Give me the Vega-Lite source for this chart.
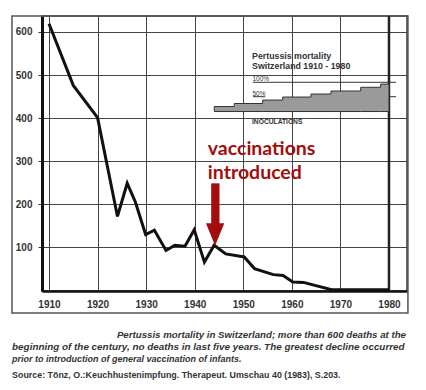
{
  "$schema": "https://vega.github.io/schema/vega-lite/v6.json",
  "width": 365,
  "height": 275,
  "autosize": {"type": "none"},
  "padding": {"left": 42, "top": 16, "right": 19, "bottom": 99},
  "background": "white",
  "config": {
    "view": {"stroke": "#333", "strokeWidth": 1.5},
    "font": "Liberation Sans"
  },
  "datasets": {
    "mortality": [
      {"year": 1910, "deaths": 619},
      {"year": 1915, "deaths": 476},
      {"year": 1920, "deaths": 401},
      {"year": 1924.1, "deaths": 172},
      {"year": 1926.1, "deaths": 249},
      {"year": 1927.8, "deaths": 205},
      {"year": 1929.9, "deaths": 130},
      {"year": 1931.7, "deaths": 140},
      {"year": 1934.1, "deaths": 93},
      {"year": 1935.9, "deaths": 105},
      {"year": 1938, "deaths": 103},
      {"year": 1939.9, "deaths": 141},
      {"year": 1942, "deaths": 66},
      {"year": 1944, "deaths": 105},
      {"year": 1946.4, "deaths": 85},
      {"year": 1950.2, "deaths": 78},
      {"year": 1952.3, "deaths": 51},
      {"year": 1956.2, "deaths": 37},
      {"year": 1958.2, "deaths": 35},
      {"year": 1960.2, "deaths": 20},
      {"year": 1962.4, "deaths": 19},
      {"year": 1968.2, "deaths": 2},
      {"year": 1980, "deaths": 2}
    ],
    "inoculations": [
      {"year": 1944.03, "top": 427, "base": 415.4},
      {"year": 1948.15, "top": 434, "base": 415.4},
      {"year": 1954.0, "top": 442, "base": 415.4},
      {"year": 1958.12, "top": 449, "base": 415.4},
      {"year": 1963.94, "top": 456, "base": 415.4},
      {"year": 1968.06, "top": 463, "base": 415.4},
      {"year": 1974.18, "top": 471.6, "base": 415.4},
      {"year": 1978.29, "top": 479, "base": 415.4},
      {"year": 1980.0, "top": 479, "base": 415.4}
    ],
    "refLines": [
      {"name": "100%", "x1": 1952.0, "x2": 1981.44, "y": 483.2},
      {"name": "50% a", "x1": 1952.0, "x2": 1954.5, "y": 449.8},
      {"name": "50% b", "x1": 1978.77, "x2": 1981.44, "y": 449.8}
    ],
    "frame": [{"x1": 1902.38, "x2": 1983.9, "y1": 637, "y2": -52}],
    "grid1980": [{"year": 1980}],
    "insetTitle": [
      {"x": 1951.8, "y": 538.4, "t": "Pertussis mortality"},
      {"x": 1951.8, "y": 515, "t": "Switzerland 1910 - 1980"}
    ],
    "insetSmall": [
      {"x": 1951.9, "y": 486, "t": "100%"},
      {"x": 1951.9, "y": 452.5, "t": "50%"}
    ],
    "insetInoc": [{"x": 1951.8, "y": 385.3, "t": "INOCULATIONS"}],
    "arrowShaft": [{"x": 1944.25, "y1": 248.8, "y2": 150}],
    "arrowHead": [{"x": 1944.2, "y": 130}],
    "vacc": [
      {"x": 1942.7, "y": 314.5, "t": "vaccinations\nintroduced"}
    ],
    "captionLine1": [{"x": 1983.5, "y": -110, "t": "Pertussis mortality in Switzerland; more than 600 deaths at the"}],
    "captionLine2": [{"x": 1902.4, "y": -138, "t": "beginning of the century, no deaths in last five years. The greatest decline occurred"}],
    "captionLine3": [{"x": 1902.4, "y": -166, "t": "prior to introduction of general vaccination of infants."}],
    "source": [{"x": 1902.4, "y": -203, "t": "Source: Tönz, O.:Keuchhustenimpfung. Therapeut. Umschau 40 (1983), S.203."}]
  },
  "layer": [
    {
      "data": {"name": "frame"},
      "mark": {"type": "rect", "fill": null, "fillOpacity": 0, "stroke": "#555", "strokeWidth": 1.5},
      "encoding": {
        "x": {"field": "x1", "type": "quantitative", "scale": {"domain": [1908.56, 1983.71], "nice": false, "zero": false},
          "axis": {"values": [1910, 1920, 1930, 1940, 1950, 1960, 1970, 1980], "format": "d", "title": null, "ticks": false,
            "labelPadding": 8, "labelFont": "Liberation Sans", "labelFontWeight": "bold", "labelFontSize": 10, "labelColor": "#333",
            "domainColor": "#111", "domainWidth": 2.5, "gridColor": "#444", "gridWidth": 1, "grid": true, "labelFlush": false}},
        "x2": {"field": "x2"},
        "y": {"field": "y1", "type": "quantitative", "scale": {"domain": [-1, 637], "nice": false, "zero": false},
          "axis": {"values": [100, 200, 300, 400, 500, 600], "title": null, "tickSize": 4, "tickColor": "#333", "labelPadding": 6,
            "labelFont": "Liberation Sans", "labelFontWeight": "bold", "labelFontSize": 10, "labelColor": "#333",
            "domainColor": "#111", "domainWidth": 3, "gridColor": "#444", "gridWidth": 1, "grid": true}},
        "y2": {"field": "y2"}
      }
    },
    {
      "data": {"name": "grid1980"},
      "mark": {"type": "rule", "color": "#222", "strokeWidth": 2.5},
      "encoding": {"x": {"field": "year", "type": "quantitative"}}
    },
    {
      "data": {"name": "refLines"},
      "mark": {"type": "rule", "color": "#333", "strokeWidth": 1},
      "encoding": {
        "x": {"field": "x1", "type": "quantitative"},
        "x2": {"field": "x2"},
        "y": {"field": "y", "type": "quantitative"}
      }
    },
    {
      "data": {"name": "inoculations"},
      "mark": {"type": "area", "interpolate": "step-after", "fill": "#9a9a9a", "stroke": "#333", "strokeWidth": 1},
      "encoding": {
        "x": {"field": "year", "type": "quantitative"},
        "y": {"field": "top", "type": "quantitative"},
        "y2": {"field": "base"}
      }
    },
    {
      "data": {"name": "insetTitle"},
      "mark": {"type": "text", "align": "left", "baseline": "alphabetic", "font": "Liberation Sans", "fontWeight": "bold", "fontSize": 8.8, "color": "#333"},
      "encoding": {"x": {"field": "x", "type": "quantitative"}, "y": {"field": "y", "type": "quantitative"}, "text": {"field": "t"}}
    },
    {
      "data": {"name": "insetSmall"},
      "mark": {"type": "text", "align": "left", "baseline": "alphabetic", "font": "Liberation Sans", "fontSize": 6.5, "color": "#333"},
      "encoding": {"x": {"field": "x", "type": "quantitative"}, "y": {"field": "y", "type": "quantitative"}, "text": {"field": "t"}}
    },
    {
      "data": {"name": "insetInoc"},
      "mark": {"type": "text", "align": "left", "baseline": "alphabetic", "font": "Liberation Sans", "fontWeight": "bold", "fontSize": 6.7, "color": "#333"},
      "encoding": {"x": {"field": "x", "type": "quantitative"}, "y": {"field": "y", "type": "quantitative"}, "text": {"field": "t"}}
    },
    {
      "data": {"name": "mortality"},
      "mark": {"type": "line", "color": "#111", "strokeWidth": 3, "strokeJoin": "miter"},
      "encoding": {
        "x": {"field": "year", "type": "quantitative"},
        "y": {"field": "deaths", "type": "quantitative"}
      }
    },
    {
      "data": {"name": "arrowShaft"},
      "mark": {"type": "rule", "color": "#a30d0d", "strokeWidth": 8.3, "strokeCap": "butt"},
      "encoding": {
        "x": {"field": "x", "type": "quantitative"},
        "y": {"field": "y1", "type": "quantitative"},
        "y2": {"field": "y2"}
      }
    },
    {
      "data": {"name": "arrowHead"},
      "mark": {"type": "point", "shape": "M-0.817,-1L0.817,-1L0,1Z", "size": 502, "filled": true, "color": "#a30d0d", "opacity": 1, "strokeWidth": 0},
      "encoding": {
        "x": {"field": "x", "type": "quantitative"},
        "y": {"field": "y", "type": "quantitative"}
      }
    },
    {
      "data": {"name": "vacc"},
      "mark": {"type": "text", "align": "left", "baseline": "alphabetic", "font": "Lato", "fontWeight": "bold", "fontSize": 19.5, "lineBreak": "\n", "lineHeight": 23.5, "color": "#a30d0d"},
      "encoding": {"x": {"field": "x", "type": "quantitative"}, "y": {"field": "y", "type": "quantitative"}, "text": {"field": "t"}}
    },
    {
      "data": {"name": "captionLine1"},
      "mark": {"type": "text", "align": "right", "baseline": "alphabetic", "font": "Liberation Sans", "fontWeight": "bold", "fontStyle": "italic", "fontSize": 9.7, "color": "#333"},
      "encoding": {"x": {"field": "x", "type": "quantitative"}, "y": {"field": "y", "type": "quantitative"}, "text": {"field": "t"}}
    },
    {
      "data": {"name": "captionLine2"},
      "mark": {"type": "text", "align": "left", "baseline": "alphabetic", "font": "Liberation Sans", "fontWeight": "bold", "fontStyle": "italic", "fontSize": 9.9, "color": "#333"},
      "encoding": {"x": {"field": "x", "type": "quantitative"}, "y": {"field": "y", "type": "quantitative"}, "text": {"field": "t"}}
    },
    {
      "data": {"name": "captionLine3"},
      "mark": {"type": "text", "align": "left", "baseline": "alphabetic", "font": "Liberation Sans", "fontWeight": "bold", "fontStyle": "italic", "fontSize": 9, "color": "#333"},
      "encoding": {"x": {"field": "x", "type": "quantitative"}, "y": {"field": "y", "type": "quantitative"}, "text": {"field": "t"}}
    },
    {
      "data": {"name": "source"},
      "mark": {"type": "text", "align": "left", "baseline": "alphabetic", "font": "Liberation Sans", "fontWeight": "bold", "fontSize": 8.9, "color": "#333"},
      "encoding": {"x": {"field": "x", "type": "quantitative"}, "y": {"field": "y", "type": "quantitative"}, "text": {"field": "t"}}
    }
  ]
}
